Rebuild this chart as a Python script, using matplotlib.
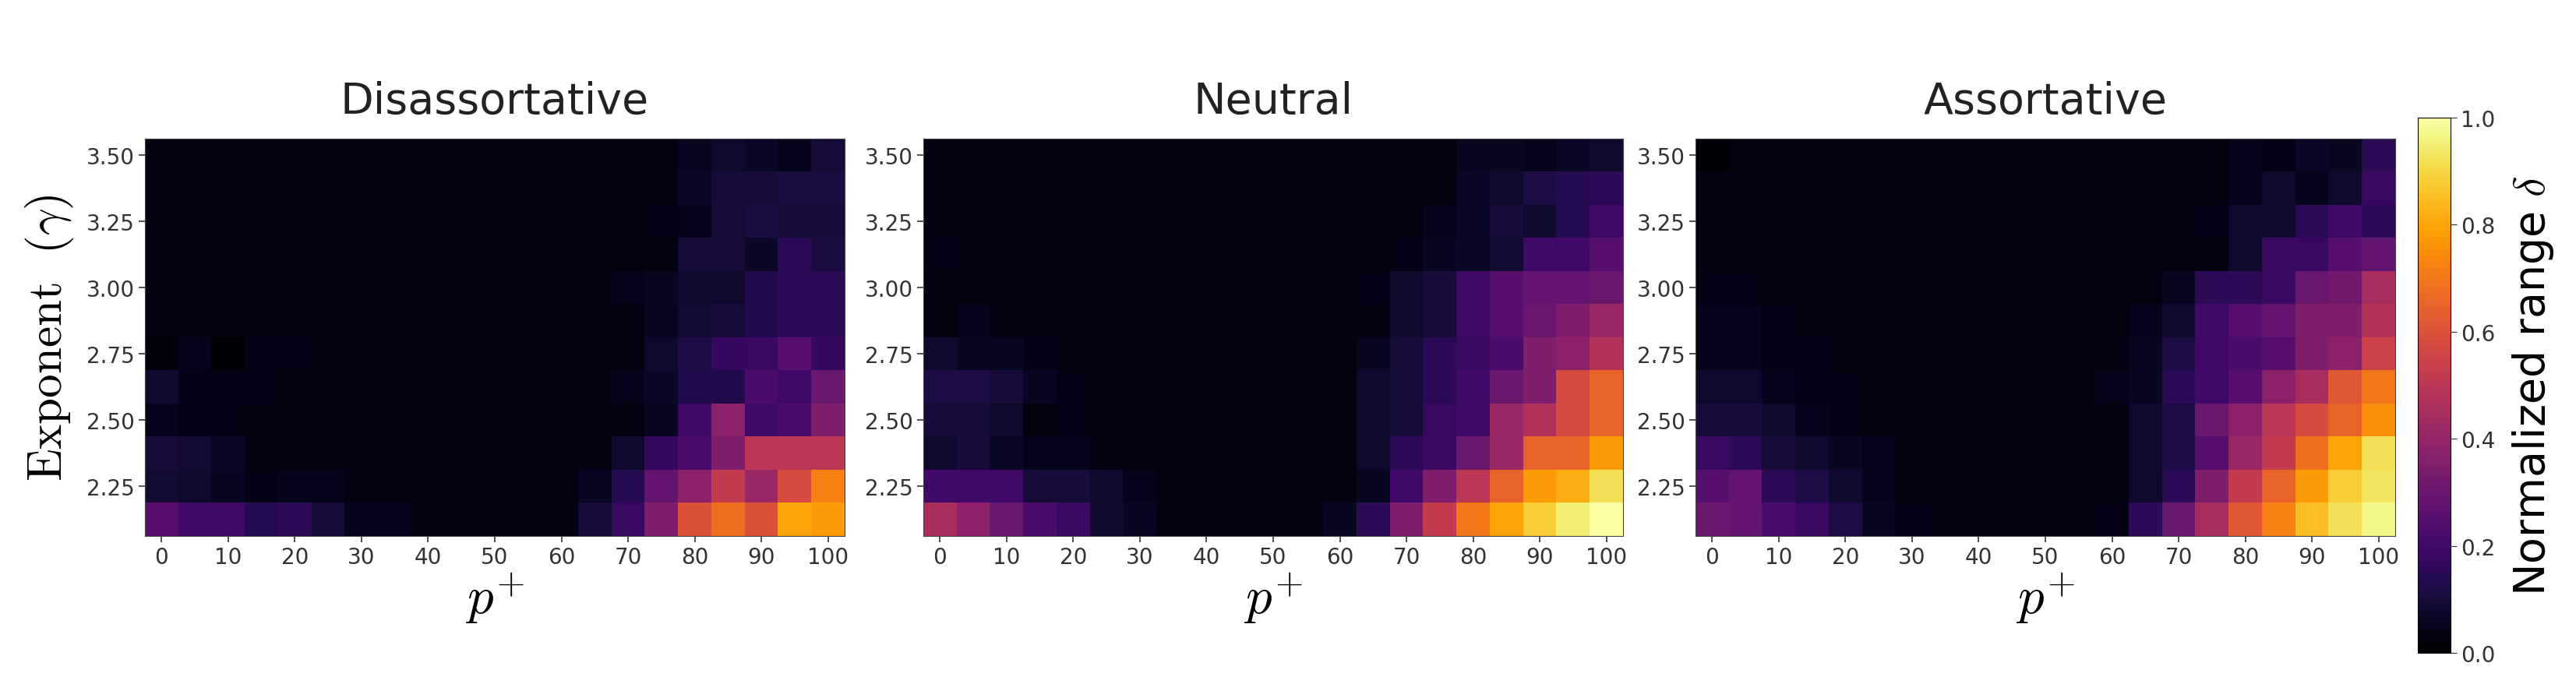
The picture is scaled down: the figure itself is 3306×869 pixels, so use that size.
import numpy as np
import matplotlib
matplotlib.use("Agg")
import matplotlib.pyplot as plt

plt.rcParams["mathtext.fontset"] = "cm"

p_plus = list(range(0, 101, 5))
gammas = [3.5 - 0.125 * i for i in range(12)]  # top to bottom
titles = ["Disassortative", "Neutral", "Assortative"]

def row(tail, n=21, base=0.03, head=None):
    r = [base] * n
    if head:
        for i, v in enumerate(head):
            r[i] = v
    for i, v in enumerate(tail):
        r[n - len(tail) + i] = v
    return r

disassortative = [
    row([0.03, 0.06, 0.08, 0.07, 0.05, 0.10]),
    row([0.07, 0.10, 0.10, 0.11, 0.11]),
    row([0.04, 0.05, 0.10, 0.11, 0.10, 0.10]),
    row([0.10, 0.10, 0.07, 0.15, 0.11]),
    row([0.05, 0.06, 0.08, 0.08, 0.13, 0.15, 0.15]),
    row([0.06, 0.09, 0.10, 0.13, 0.15, 0.15]),
    row([0.08, 0.12, 0.17, 0.18, 0.25, 0.17], head=[0.02, 0.05, 0.01, 0.04, 0.04]),
    row([0.05, 0.07, 0.13, 0.13, 0.22, 0.20, 0.30], head=[0.08, 0.04, 0.04, 0.04]),
    row([0.06, 0.20, 0.38, 0.20, 0.22, 0.35], head=[0.05, 0.04, 0.04]),
    row([0.08, 0.17, 0.22, 0.35, 0.50, 0.50, 0.50], head=[0.10, 0.09, 0.07, 0.03]),
    row([0.06, 0.14, 0.28, 0.38, 0.52, 0.42, 0.58, 0.72], head=[0.09, 0.08, 0.06, 0.04, 0.05, 0.05]),
    row([0.03, 0.10, 0.18, 0.35, 0.60, 0.68, 0.60, 0.80, 0.78],
        head=[0.25, 0.20, 0.20, 0.14, 0.15, 0.10, 0.05, 0.05]),
]

neutral = [
    row([0.06, 0.06, 0.05, 0.07, 0.08]),
    row([0.07, 0.08, 0.12, 0.14, 0.15]),
    row([0.05, 0.07, 0.10, 0.08, 0.14, 0.20]),
    row([0.04, 0.06, 0.07, 0.09, 0.20, 0.20, 0.25], head=[0.04]),
    row([0.04, 0.08, 0.10, 0.20, 0.25, 0.28, 0.28, 0.30], head=[0.03]),
    row([0.08, 0.10, 0.20, 0.25, 0.30, 0.35, 0.42], head=[0.03, 0.05]),
    row([0.06, 0.10, 0.15, 0.18, 0.22, 0.35, 0.38, 0.48], head=[0.08, 0.06, 0.06, 0.04]),
    row([0.08, 0.10, 0.15, 0.20, 0.30, 0.35, 0.58, 0.65], head=[0.12, 0.12, 0.10, 0.06, 0.04]),
    row([0.08, 0.10, 0.18, 0.20, 0.42, 0.48, 0.58, 0.65], head=[0.10, 0.10, 0.08, 0.03, 0.04]),
    row([0.08, 0.15, 0.18, 0.30, 0.42, 0.65, 0.65, 0.78], head=[0.08, 0.10, 0.07, 0.05, 0.05]),
    row([0.06, 0.20, 0.35, 0.50, 0.65, 0.78, 0.82, 0.92],
        head=[0.20, 0.20, 0.20, 0.10, 0.10, 0.08, 0.05]),
    row([0.06, 0.15, 0.35, 0.52, 0.70, 0.80, 0.88, 0.95, 1.00],
        head=[0.45, 0.38, 0.30, 0.22, 0.18, 0.08, 0.06]),
]

assortative = [
    row([0.05, 0.04, 0.07, 0.06, 0.15], head=[0.01]),
    row([0.05, 0.08, 0.05, 0.08, 0.18]),
    row([0.04, 0.08, 0.08, 0.15, 0.20, 0.15]),
    row([0.08, 0.18, 0.18, 0.25, 0.28]),
    row([0.06, 0.15, 0.15, 0.18, 0.30, 0.32, 0.45], head=[0.04, 0.04]),
    row([0.05, 0.08, 0.20, 0.25, 0.28, 0.35, 0.35, 0.48], head=[0.05, 0.05, 0.04]),
    row([0.06, 0.12, 0.20, 0.22, 0.25, 0.35, 0.38, 0.55], head=[0.05, 0.05, 0.04, 0.04]),
    row([0.05, 0.06, 0.15, 0.20, 0.25, 0.38, 0.45, 0.62, 0.70], head=[0.08, 0.08, 0.05, 0.04, 0.04]),
    row([0.08, 0.12, 0.30, 0.38, 0.50, 0.58, 0.65, 0.75], head=[0.10, 0.10, 0.08, 0.05, 0.04]),
    row([0.08, 0.12, 0.25, 0.42, 0.52, 0.68, 0.80, 0.92], head=[0.18, 0.15, 0.10, 0.08, 0.06, 0.05]),
    row([0.03, 0.08, 0.15, 0.35, 0.52, 0.65, 0.78, 0.88, 0.93],
        head=[0.25, 0.28, 0.15, 0.12, 0.08, 0.05, 0.03]),
    row([0.04, 0.15, 0.30, 0.45, 0.62, 0.72, 0.85, 0.92, 0.97],
        head=[0.30, 0.28, 0.22, 0.18, 0.12, 0.06, 0.04]),
]

data = [disassortative, neutral, assortative]

W, H = 3306, 870
fig = plt.figure(figsize=(W / 100, H / 100), dpi=100)
tsize = 20
lefts = [186, 1185, 2176]
pw = 898
bottom_px, top_px = 689, 179
ext = [p_plus[0] - 2.5, p_plus[-1] + 2.5, gammas[-1] - 0.0625, gammas[0] + 0.0625]
im = None
for k in range(3):
    ax = fig.add_axes([lefts[k] / W, 1 - bottom_px / H, pw / W, (bottom_px - top_px) / H])
    im = ax.imshow(np.array(data[k]), cmap="inferno", vmin=0, vmax=1,
                   extent=ext, aspect="auto", interpolation="nearest")
    ax.set_xticks(range(0, 101, 10))
    ax.set_yticks([2.25, 2.5, 2.75, 3.0, 3.25, 3.5])
    ax.set_yticklabels(["2.25", "2.50", "2.75", "3.00", "3.25", "3.50"])
    ax.tick_params(length=6, width=1.2, colors="#333333", labelsize=tsize)
    ax.set_title(titles[k], fontsize=40, pad=24, color="#222222")
    ax.set_xlabel(r"$p^{+}$", fontsize=48, labelpad=2)
    if k == 0:
        ax.set_ylabel(r"$\mathrm{Exponent}\ \ (\gamma)$", fontsize=44, labelpad=10)
    for s in ax.spines.values():
        s.set_color("#444444")

cax = fig.add_axes([3103 / W, 1 - 839 / H, 42 / W, (839 - 152) / H])
cb = fig.colorbar(im, cax=cax, ticks=[0, 0.2, 0.4, 0.6, 0.8, 1.0])
cb.ax.set_yticklabels(["0.0", "0.2", "0.4", "0.6", "0.8", "1.0"])
cb.ax.tick_params(labelsize=tsize, length=6, colors="#333333")
cb.set_label(r"Normalized range $\delta$", fontsize=40, labelpad=14)
fig.savefig("out.png", dpi=100)
